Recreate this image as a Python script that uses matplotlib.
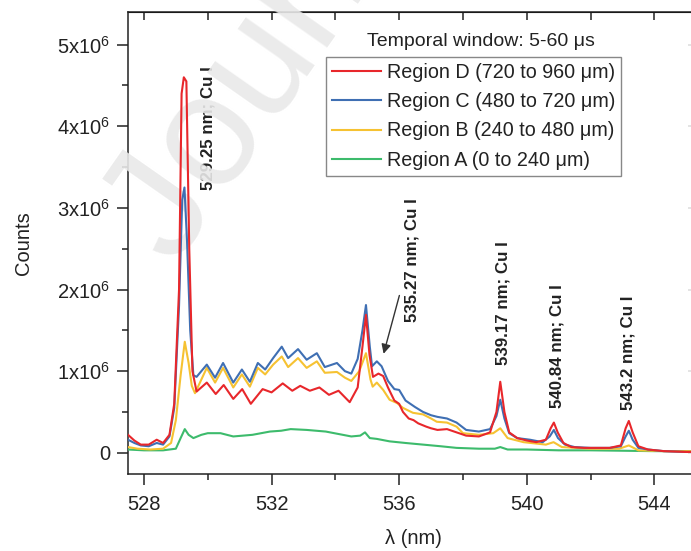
import numpy as np
import matplotlib
matplotlib.use('Agg')
import matplotlib.pyplot as plt
from matplotlib.ticker import MultipleLocator, FixedLocator

plt.rcParams['font.family'] = ['Liberation Sans', 'DejaVu Sans']
plt.rcParams['mathtext.default'] = 'regular'

# spectra, counts in units of 1e6
lam_D = [527.5, 527.7, 527.9, 528.15, 528.4, 528.6, 528.8, 528.95, 529.1, 529.18, 529.25,
         529.33, 529.42, 529.52, 529.65, 529.97, 530.25, 530.5, 530.8, 531.08, 531.35,
         531.72, 532.0, 532.35, 532.65, 532.9, 533.2, 533.5, 533.8, 534.1, 534.45, 534.7,
         534.85, 534.96, 535.07, 535.18, 535.35, 535.5, 535.65, 535.85, 536.0, 536.12,
         536.3, 536.45, 536.6, 536.85, 537.0, 537.2, 537.5, 537.8, 538.1, 538.5, 538.85,
         539.05, 539.17, 539.3, 539.45, 539.7, 540.0, 540.3, 540.6, 540.75, 540.85, 540.97,
         541.15, 541.4, 541.8, 542.2, 542.6, 542.95, 543.1, 543.2, 543.32, 543.5, 543.8,
         544.3, 545.0, 546.0]
cnt_D = [0.22, 0.15, 0.10, 0.10, 0.16, 0.12, 0.22, 0.60, 2.0, 4.4, 4.6,
         4.55, 2.5, 1.0, 0.75, 0.86, 0.72, 0.83, 0.66, 0.78, 0.60,
         0.78, 0.74, 0.85, 0.76, 0.82, 0.76, 0.80, 0.71, 0.76, 0.62, 0.80,
         1.30, 1.69, 1.20, 0.93, 0.97, 0.94, 0.80, 0.64, 0.60, 0.50,
         0.42, 0.40, 0.36, 0.32, 0.30, 0.28, 0.29, 0.25, 0.21, 0.20, 0.25,
         0.50, 0.87, 0.50, 0.25, 0.18, 0.15, 0.13, 0.16, 0.30, 0.37, 0.25,
         0.12, 0.07, 0.06, 0.06, 0.06, 0.09, 0.30, 0.39, 0.25, 0.08, 0.04,
         0.02, 0.01, 0.01]

lam_C = [527.5, 527.7, 527.9, 528.15, 528.4, 528.6, 528.8, 528.95, 529.1, 529.2, 529.27,
         529.35, 529.45, 529.55, 529.65, 529.97, 530.23, 530.48, 530.8, 531.07, 531.32,
         531.57, 531.8, 532.05, 532.32, 532.52, 532.83, 533.1, 533.42, 533.67, 534.05,
         534.3, 534.5, 534.7, 534.85, 534.96, 535.08, 535.15, 535.3, 535.45, 535.65,
         535.85, 536.0, 536.2, 536.5, 536.75, 537.0, 537.2, 537.5, 537.8, 538.1, 538.5,
         538.85, 539.05, 539.17, 539.3, 539.45, 539.7, 540.1, 540.5, 540.72, 540.85,
         540.98, 541.2, 541.5, 542.0, 542.6, 542.95, 543.1, 543.2, 543.32, 543.5, 543.8,
         544.3, 545.0, 546.0]
cnt_C = [0.16, 0.12, 0.09, 0.08, 0.12, 0.10, 0.20, 0.55, 1.8, 3.1, 3.25,
         2.6, 1.5, 0.95, 0.93, 1.08, 0.92, 1.10, 0.86, 1.02, 0.87,
         1.10, 1.02, 1.16, 1.30, 1.16, 1.27, 1.14, 1.22, 1.05, 1.10,
         1.00, 0.97, 1.15, 1.50, 1.81, 1.30, 1.06, 1.12, 1.06, 0.88,
         0.78, 0.77, 0.64, 0.56, 0.50, 0.46, 0.44, 0.42, 0.37, 0.28, 0.26,
         0.29, 0.45, 0.65, 0.42, 0.24, 0.18, 0.16, 0.13, 0.20, 0.28,
         0.18, 0.10, 0.07, 0.06, 0.06, 0.08, 0.20, 0.27, 0.16, 0.06, 0.04,
         0.02, 0.01, 0.01]

lam_B = [527.5, 527.8, 528.2, 528.6, 528.85, 529.0, 529.15, 529.28, 529.4, 529.5, 529.6,
         529.97, 530.23, 530.48, 530.8, 531.07, 531.32, 531.57, 531.8, 532.05, 532.32,
         532.52, 532.83, 533.1, 533.42, 533.67, 534.05, 534.3, 534.5, 534.75, 534.96,
         535.1, 535.17, 535.3, 535.5, 535.7, 535.93, 536.12, 536.43, 536.75, 537.0,
         537.18, 537.5, 537.8, 538.0, 538.5, 538.95, 539.17, 539.4, 539.9, 540.6, 540.84,
         541.1, 542.0, 542.9, 543.2, 543.5, 544.3, 546.0]
cnt_B = [0.07, 0.05, 0.04, 0.05, 0.12, 0.40, 0.95, 1.36, 1.10, 0.82, 0.73,
         1.04, 0.86, 1.04, 0.80, 0.96, 0.81, 1.04, 0.96, 1.08, 1.18,
         1.05, 1.16, 1.04, 1.12, 0.98, 0.99, 0.92, 0.88, 1.00, 1.22,
         0.90, 0.81, 0.86, 0.77, 0.65, 0.61, 0.55, 0.49, 0.47, 0.42,
         0.38, 0.37, 0.32, 0.24, 0.22, 0.24, 0.30, 0.18, 0.13, 0.10, 0.13,
         0.07, 0.05, 0.05, 0.09, 0.03, 0.02, 0.02]

lam_A = [527.5, 528.0, 528.6, 529.0, 529.15, 529.28, 529.4, 529.55, 529.8, 530.0, 530.4,
         530.8, 531.1, 531.4, 531.95, 532.3, 532.6, 533.1, 533.7, 534.1, 534.5, 534.78,
         534.93, 535.08, 535.3, 535.7, 536.2, 536.75, 537.3, 537.8, 538.5, 539.0, 539.17,
         539.4, 540.0, 541.0, 542.0, 544.0, 546.0]
cnt_A = [0.04, 0.03, 0.03, 0.05, 0.18, 0.29, 0.22, 0.18, 0.22, 0.24, 0.24,
         0.20, 0.21, 0.22, 0.26, 0.27, 0.29, 0.28, 0.26, 0.23, 0.20, 0.21,
         0.25, 0.18, 0.17, 0.14, 0.12, 0.10, 0.08, 0.06, 0.05, 0.05, 0.07,
         0.04, 0.04, 0.03, 0.03, 0.02, 0.02]

labels = ['Region D (720 to 960 μm)', 'Region C (480 to 720 μm)',
          'Region B (240 to 480 μm)', 'Region A (0 to 240 μm)']
colors = ['#e8272b', '#3f6fb3', '#f6c232', '#3dbb6c']

# line identifications: (text, x, y of text bottom in 1e6 counts)
lines_id = [('529.25 nm; Cu I', 530.0, 3.22),
            ('535.27 nm; Cu I', 536.4, 1.6),
            ('539.17 nm; Cu I', 539.25, 1.08),
            ('540.84 nm; Cu I', 540.95, 0.55),
            ('543.2 nm; Cu I', 543.17, 0.53)]

fig = plt.figure(figsize=(6.91, 5.51), dpi=100)
ax = fig.add_axes([128/691, 77/551, 571/691, 462/551])

series = [(lam_D, cnt_D), (lam_C, cnt_C), (lam_B, cnt_B), (lam_A, cnt_A)]
handles = [None]*4
for i in [3, 2, 1, 0]:
    lam, cnt = series[i]
    handles[i], = ax.plot(lam, np.array(cnt)*1e6, color=colors[i], lw=1.5,
                          solid_joinstyle='round', label=labels[i], zorder=3+(3-i))

ax.set_xlim(527.5, 545.4)
ax.set_ylim(-0.26e6, 5.4e6)

ax.xaxis.set_major_locator(MultipleLocator(4))
ax.xaxis.set_minor_locator(MultipleLocator(2))
ax.yaxis.set_major_locator(FixedLocator([0, 1e6, 2e6, 3e6, 4e6, 5e6]))
ax.set_yticklabels(['0', '1x10$^6$', '2x10$^6$', '3x10$^6$', '4x10$^6$', '5x10$^6$'])
ax.yaxis.set_minor_locator(MultipleLocator(0.5e6))
ax.tick_params(which='major', direction='out', length=8, width=1.1, labelsize=14.5,
               colors='#222222', pad=5)
ax.tick_params(axis='x', which='major', pad=7)
ax.tick_params(which='minor', direction='out', length=4.5, width=1.1, colors='#222222')
for s in ax.spines.values():
    s.set_linewidth(1.1)
    s.set_color('#222222')

top = ax.secondary_xaxis('top')
top.xaxis.set_major_locator(MultipleLocator(2))
top.tick_params(direction='in', length=6, width=1.1, labeltop=False, colors='#222222')

right = ax.secondary_yaxis('right')
right.yaxis.set_major_locator(FixedLocator([0, 1e6, 2e6, 3e6, 4e6, 5e6]))
right.tick_params(direction='in', length=8, width=1.1, labelright=False, colors='#dddddd')

ax.set_xlabel('λ (nm)', fontsize=14.5, color='#222222', labelpad=11)
ax.set_ylabel('Counts', fontsize=14.5, color='#222222', labelpad=17)

leg = ax.legend(handles=handles, loc='upper left', bbox_to_anchor=(198/571, 417/462),
                fontsize=14.2, frameon=True, fancybox=False, edgecolor='#888888',
                framealpha=1, handlelength=2.5, handletextpad=0.3, labelspacing=0.52,
                borderpad=0.3, borderaxespad=0)
leg.get_frame().set_linewidth(1.0)
for t in leg.get_texts():
    t.set_color('#222222')
ax.text(353/571, 432/462, 'Temporal window: 5-60 μs', transform=ax.transAxes,
        fontsize=14, ha='center', va='center', color='#222222')

for txt, x, y in lines_id:
    ax.text(x, y*1e6, txt, rotation=90, ha='center', va='bottom', fontsize=12.2,
            fontweight='bold', color='#222222', zorder=2.6)

ax.annotate('', xy=(535.49, 1.18e6), xytext=(536.03, 1.96e6),
            arrowprops=dict(arrowstyle='-|>', color='#333333', lw=1.0, mutation_scale=14),
            zorder=2.6)

# faint diagonal watermark, over the labels but under the spectra
ax.text(0.2518, 0.5155, 'Journal Pre-proof', transform=fig.transFigure, clip_on=False,
        fontsize=115, color='#e9e9e9', alpha=0.9, rotation=55, ha='left',
        va='baseline', rotation_mode='anchor', zorder=2.8)

fig.savefig('out.png', dpi=100)
